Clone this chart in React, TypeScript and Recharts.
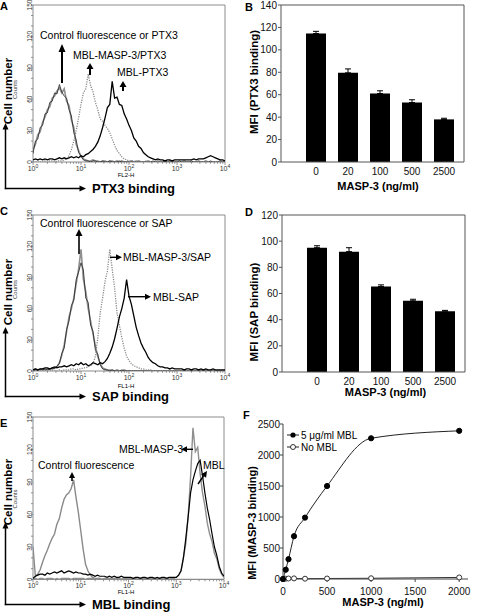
import React from 'react';
import { LineChart, Line, XAxis, YAxis, ReferenceArea, BarChart, Bar, ErrorBar } from 'recharts';

const FONT = '"Liberation Sans", Arial, Helvetica, sans-serif';

// log10 fluorescence channel positions shared by the three histograms
const logChannels = [
  0, 0.05, 0.1, 0.15, 0.2, 0.25, 0.3, 0.35, 0.4, 0.45,
  0.5, 0.55, 0.6, 0.65, 0.7, 0.75, 0.8, 0.85, 0.9, 0.95,
  1, 1.05, 1.1, 1.15, 1.2, 1.25, 1.3, 1.35, 1.4, 1.45,
  1.5, 1.55, 1.6, 1.65, 1.7, 1.75, 1.8, 1.85, 1.9, 1.95,
  2, 2.05, 2.1, 2.15, 2.2, 2.25, 2.3, 2.35, 2.4, 2.45,
  2.5, 2.55, 2.6, 2.65, 2.7, 2.75, 2.8, 2.85, 2.9, 2.95,
  3, 3.05, 3.1, 3.15, 3.2, 3.25, 3.3, 3.35, 3.4, 3.45,
  3.5, 3.55, 3.6, 3.65, 3.7, 3.75, 3.8, 3.85, 3.9, 3.95,
  4,
];

// panel A - PTX3 binding
const ctrlA = [
  12, 17, 26, 29, 38, 43, 50, 53, 61, 63,
  68, 71, 66, 70, 58, 54, 40, 33, 17, 11,
  5, 3, 2, 1, 1, 2, 1, 1, 0, 1,
  1, 0, 1, 1, 0, 1, 0, 1, 0, 0,
  0, 1, 0, 0, 1, 0, 0, 0, 1, 0,
  0, 0, 1, 0, 0, 0, 0, 1, 0, 0,
  0, 0, 0, 1, 0, 0, 0, 0, 0, 1,
  0, 0, 1, 0, 0, 0, 0, 0, 1, 0,
  0,
];
const ptx3A = [
  8, 20, 22, 33, 35, 46, 47, 57, 58, 66,
  65, 74, 67, 63, 61, 50, 44, 28, 21, 9,
  6, 2, 1, 1, 0, 1, 1, 0, 0, 1,
  0, 0, 1, 0, 0, 0, 1, 0, 0, 0,
  0, 0, 0, 1, 0, 0, 0, 0, 0, 0,
  1, 0, 0, 0, 0, 1, 0, 0, 0, 0,
  0, 1, 0, 0, 0, 0, 1, 0, 0, 0,
  0, 0, 0, 0, 1, 0, 0, 0, 0, 0,
  0,
];
const maspPtx3A = [
  0, 0, 1, 0, 0, 1, 0, 1, 1, 0,
  1, 1, 1, 2, 3, 6, 12, 20, 30, 42,
  55, 66, 70, 84, 73, 67, 57, 50, 41, 39,
  35, 32, 28, 22, 16, 11, 8, 5, 3, 2,
  1, 1, 1, 0, 1, 0, 0, 1, 0, 0,
  0, 0, 0, 0, 0, 0, 0, 0, 0, 0,
  0, 0, 0, 0, 0, 0, 0, 0, 0, 0,
  0, 0, 0, 0, 0, 0, 0, 0, 0, 0,
  0,
];
const mblPtx3A = [
  2, 3, 2, 3, 2, 3, 2, 3, 3, 2,
  3, 4, 3, 4, 3, 4, 5, 4, 5, 4,
  6, 5, 7, 8, 10, 12, 15, 19, 25, 33,
  42, 52, 55, 77, 61, 62, 55, 54, 46, 41,
  35, 30, 23, 20, 15, 13, 9, 7, 5, 4,
  3, 2, 3, 2, 2, 1, 2, 2, 1, 2,
  2, 2, 2, 2, 2, 2, 2, 3, 2, 3,
  3, 3, 4, 5, 6, 5, 4, 3, 2, 2,
  1,
];

// panel C - SAP binding
const ctrlC = [
  1, 2, 1, 1, 2, 1, 2, 2, 2, 3,
  4, 8, 15, 25, 38, 52, 60, 70, 84, 98,
  117, 88, 76, 60, 48, 36, 24, 14, 7, 3,
  2, 1, 1, 1, 0, 1, 0, 0, 1, 0,
  0, 0, 0, 0, 0, 0, 0, 0, 0, 0,
  0, 0, 0, 0, 0, 0, 0, 0, 0, 0,
  0, 0, 0, 0, 0, 0, 0, 0, 0, 0,
  0, 0, 0, 0, 0, 0, 0, 0, 0, 0,
  0,
];
const sapC = [
  0, 1, 1, 2, 1, 2, 1, 2, 3, 2,
  5, 7, 17, 22, 40, 48, 63, 68, 88, 95,
  104, 97, 70, 66, 44, 38, 20, 16, 6, 2,
  1, 1, 0, 1, 0, 0, 0, 1, 0, 0,
  0, 0, 0, 0, 0, 0, 0, 0, 0, 0,
  0, 0, 0, 0, 0, 0, 0, 0, 0, 0,
  0, 0, 0, 0, 0, 0, 0, 0, 0, 0,
  0, 0, 0, 0, 0, 0, 0, 0, 0, 0,
  0,
];
const maspSapC = [
  0, 0, 0, 0, 0, 0, 0, 0, 1, 0,
  0, 1, 0, 1, 1, 1, 2, 2, 1, 2,
  2, 3, 3, 4, 5, 7, 14, 32, 56, 70,
  86, 96, 117, 98, 80, 56, 44, 32, 22, 14,
  10, 7, 5, 4, 3, 2, 2, 1, 1, 1,
  0, 0, 0, 0, 0, 0, 0, 0, 0, 0,
  0, 0, 0, 0, 0, 0, 0, 0, 0, 0,
  0, 0, 0, 0, 0, 0, 0, 0, 0, 0,
  0,
];
const mblSapC = [
  1, 2, 1, 2, 2, 3, 3, 2, 3, 4,
  3, 4, 4, 5, 4, 5, 6, 5, 7, 6,
  8, 6, 7, 5, 6, 8, 7, 6, 8, 7,
  9, 12, 17, 23, 31, 41, 52, 60, 70, 88,
  72, 64, 53, 42, 34, 27, 22, 18, 13, 10,
  8, 7, 5, 4, 4, 3, 3, 2, 3, 2,
  2, 2, 2, 1, 2, 2, 1, 2, 2, 1,
  2, 1, 2, 1, 1, 2, 1, 1, 1, 1,
  1,
];

// panel E - MBL binding
const ctrlE = [
  30, 3, 5, 9, 16, 22, 27, 33, 38, 42,
  51, 56, 66, 74, 78, 80, 84, 92, 76, 62,
  45, 28, 14, 8, 4, 2, 1, 1, 1, 0,
  1, 0, 0, 1, 0, 0, 1, 0, 0, 0,
  0, 1, 0, 0, 0, 1, 0, 0, 0, 0,
  1, 0, 0, 0, 0, 0, 1, 0, 0, 0,
  0, 0, 0, 0, 0, 0, 0, 0, 0, 0,
  0, 0, 0, 0, 0, 0, 0, 0, 0, 0,
  0,
];
const maspE = [
  1, 1, 0, 1, 1, 0, 1, 1, 1, 0,
  1, 0, 1, 1, 1, 1, 0, 1, 1, 1,
  1, 1, 0, 1, 1, 1, 0, 1, 1, 0,
  1, 1, 1, 0, 1, 1, 1, 0, 1, 1,
  1, 0, 1, 1, 0, 1, 1, 1, 0, 1,
  1, 1, 0, 1, 1, 1, 1, 0, 1, 1,
  2, 4, 8, 20, 33, 59, 95, 140, 118, 122,
  98, 80, 68, 52, 42, 35, 24, 19, 10, 5,
  2,
];
const mblE = [
  1, 3, 4, 5, 5, 4, 6, 5, 6, 7,
  6, 7, 8, 6, 7, 8, 7, 6, 7, 6,
  6, 5, 5, 4, 5, 4, 3, 4, 3, 3,
  3, 2, 3, 2, 3, 2, 2, 3, 2, 2,
  2, 2, 1, 2, 2, 1, 2, 2, 1, 2,
  2, 1, 2, 1, 2, 2, 1, 2, 2, 2,
  2, 4, 8, 20, 38, 58, 80, 92, 100, 107,
  110, 96, 80, 66, 55, 42, 30, 22, 12, 6,
  3,
];

// panels B and D
const masp3Doses = ['0', '20', '100', '500', '2500'];
const ptx3Mfi = [114.5, 79.5, 61, 53, 38];
const ptx3Sem = [2, 3.5, 2.5, 2.5, 1];
const sapMfi = [95, 92, 65.3, 54.4, 46.5];
const sapSem = [1.5, 3, 1.3, 1.2, 0.6];

// panel F
const fDoses = [0, 31.25, 62.5, 125, 250, 500, 1000, 2000];
const withMbl = [0, 150, 320, 690, 990, 1500, 2270, 2390];
const noMbl = [0, 5, 8, 10, 5, 8, 12, 25];

const countTicks = [0, 10, 20, 30, 40, 50, 60, 70, 80, 90, 100, 110, 120, 130, 140, 150];
const decades = [0, 1, 2, 3, 4];
const logTicks = decades.flatMap((d) =>
  d === 4 ? [4] : [d, ...[2, 3, 4, 5, 6, 7, 8, 9].map((m) => d + Math.log10(m))]
);

const LogTick = (props: any) => {
  const { x, y, payload } = props;
  const v = payload.value;
  const major = Math.abs(v - Math.round(v)) < 1e-6;
  return (
    <g>
      <line x1={x} x2={x} y1={y} y2={y + (major ? 3 : 1.8)} stroke="#777" strokeWidth={0.8} />
      {major && (
        <text x={x} y={y + 8.5} textAnchor="middle" fontSize={7} fill="#333" fontFamily={FONT}>
          10<tspan dy={-2.8} fontSize={5}>{Math.round(v)}</tspan>
        </text>
      )}
    </g>
  );
};

const CountTick = (props: any) => {
  const { x, y, payload } = props;
  const v = payload.value;
  return (
    <g>
      <line x1={x - 2} x2={x} y1={y} y2={y} stroke="#777" strokeWidth={0.8} />
      {v % 30 === 0 && (
        <text x={x - 1} y={y} transform={`rotate(-90 ${x - 1} ${y})`} textAnchor="middle" fontSize={6.5} fill="#333" fontFamily={FONT}>
          {v}
        </text>
      )}
    </g>
  );
};

type Curve = { key: string; values: number[]; color: string; width: number; dash?: string };

// axis strips: the y axis takes 20px at the left, the x axis 20px below the plot
const Histogram = ({ curves, left, top, height, margin }: { curves: Curve[]; left: number; top: number; height: number; margin: any }) => {
  const data = logChannels.map((x, i) => {
    const row: any = { x };
    curves.forEach((c) => (row[c.key] = c.values[i]));
    return row;
  });
  return (
    <div style={{ position: 'absolute', left, top }}>
      <LineChart width={240} height={height} data={data} margin={margin}>
        <XAxis type="number" dataKey="x" domain={[0, 4]} ticks={logTicks} interval={0} height={20} tickSize={0} tickMargin={0} axisLine={false} tickLine={false} tick={(p: any) => <LogTick {...p} />} allowDataOverflow />
        <YAxis type="number" domain={[0, 150]} ticks={countTicks} interval={0} width={20} tickSize={0} tickMargin={0} axisLine={false} tickLine={false} tick={(p: any) => <CountTick {...p} />} allowDataOverflow />
        <ReferenceArea x1={0} x2={4} y1={0} y2={150} fill="none" stroke="#8c8c8c" strokeWidth={1} />
        {curves.map((c) => (
          <Line key={c.key} dataKey={c.key} type="linear" stroke={c.color} strokeWidth={c.width} strokeDasharray={c.dash} dot={false} isAnimationActive={false} />
        ))}
      </LineChart>
    </div>
  );
};

const MfiBars = ({ mfi, sem, yMax, left, top, margin }: { mfi: number[]; sem: number[]; yMax: number; left: number; top: number; margin: any }) => {
  const data = masp3Doses.map((dose, i) => ({ dose, mfi: mfi[i], err: [0, sem[i]] }));
  const yTicks = [0, 20, 40, 60, 80, 100, 120, 140].filter((t) => t <= yMax);
  return (
    <div style={{ position: 'absolute', left, top }}>
      <BarChart width={237} height={200} data={data} margin={margin}>
        <XAxis dataKey="dose" height={20} padding={{ left: 19, right: 4 }} tickLine={false} tickSize={0} tickMargin={6} interval={0} axisLine={{ stroke: '#555' }} tick={{ fontSize: 10, fill: '#111', fontFamily: FONT }} />
        <XAxis xAxisId="top" orientation="top" dataKey="dose" height={1} tick={false} tickLine={false} axisLine={{ stroke: '#555' }} />
        <YAxis domain={[0, yMax]} ticks={yTicks} interval={0} width={30} tickSize={3} tickMargin={1} axisLine={{ stroke: '#555' }} tickLine={{ stroke: '#555' }} tick={{ fontSize: 10, fill: '#111', fontFamily: FONT }} />
        <YAxis yAxisId="right" orientation="right" domain={[0, yMax]} width={1} tick={false} tickLine={false} axisLine={{ stroke: '#555' }} />
        <Bar dataKey="mfi" fill="#000" barSize={20} isAnimationActive={false}>
          <ErrorBar dataKey="err" width={3} stroke="#000" strokeWidth={1} direction="y" />
        </Bar>
      </BarChart>
    </div>
  );
};

const BindingCurve = () => {
  const data = fDoses.map((dose, i) => ({ dose, mbl: withMbl[i], none: noMbl[i] }));
  return (
    <div style={{ position: 'absolute', left: 240, top: 400 }}>
      <LineChart width={237} height={212} data={data} margin={{ top: 24, left: 13, right: 9, bottom: 13 }}>
        <XAxis type="number" dataKey="dose" domain={[0, 2100]} ticks={[0, 500, 1000, 1500, 2000]} interval={0} height={20} tickSize={3} tickMargin={6} axisLine={{ stroke: '#444' }} tickLine={{ stroke: '#444' }} tick={{ fontSize: 10, fill: '#111', fontFamily: FONT }} />
        <YAxis domain={[0, 2500]} ticks={[0, 500, 1000, 1500, 2000, 2500]} interval={0} width={30} tickSize={3} tickMargin={0} axisLine={{ stroke: '#444' }} tickLine={{ stroke: '#444' }} tick={{ fontSize: 10, fill: '#111', fontFamily: FONT }} />
        <Line type="monotone" dataKey="none" stroke="#333" strokeWidth={1} dot={{ r: 2.5, fill: '#fff', stroke: '#333', strokeWidth: 1 }} isAnimationActive={false} />
        <Line type="monotone" dataKey="mbl" stroke="#222" strokeWidth={1} dot={{ r: 2.6, fill: '#000', stroke: '#000', strokeWidth: 1 }} isAnimationActive={false} />
      </LineChart>
    </div>
  );
};

const Arrow = ({ x1, y1, x2, y2, w = 1.5, head = 6, hw = 3 }: any) => {
  const a = Math.atan2(y2 - y1, x2 - x1);
  const bx = x2 - head * Math.cos(a);
  const by = y2 - head * Math.sin(a);
  const px = -Math.sin(a) * hw;
  const py = Math.cos(a) * hw;
  return (
    <g>
      <line x1={x1} y1={y1} x2={bx} y2={by} stroke="#000" strokeWidth={w} />
      <polygon points={`${x2},${y2} ${bx + px},${by + py} ${bx - px},${by - py}`} fill="#000" />
    </g>
  );
};

const AxisCorner = ({ cy, top, label }: { cy: number; top: number; label: string }) => (
  <g>
    <line x1={5.5} y1={cy + 0.7} x2={5.5} y2={top + 6} stroke="#000" strokeWidth={1.5} />
    <polygon points={`5.5,${top} 2.5,${top + 6.5} 8.5,${top + 6.5}`} fill="#000" />
    <line x1={4.8} y1={cy} x2={80} y2={cy} stroke="#000" strokeWidth={1.5} />
    <polygon points={`86,${cy} 79.5,${cy - 3} 79.5,${cy + 3}`} fill="#000" />
    <text x={92} y={cy + 4.6} fontSize={13} fontWeight="bold" fontFamily={FONT} fill="#000">{label}</text>
  </g>
);

const Vertical = ({ x, y, size, bold, children, color = '#000' }: any) => (
  <text x={x} y={y} transform={`rotate(-90 ${x} ${y})`} textAnchor="middle" fontSize={size} fontWeight={bold ? 'bold' : 'normal'} fontFamily={FONT} fill={color}>
    {children}
  </text>
);

const T = ({ x, y, size = 10.5, bold, children, anchor = 'start' }: any) => (
  <text x={x} y={y} fontSize={size} fontWeight={bold ? 'bold' : 'normal'} fontFamily={FONT} fill="#000" textAnchor={anchor}>
    {children}
  </text>
);

const Overlay = () => (
  <svg width={477} height={612} style={{ position: 'absolute', left: 0, top: 0, pointerEvents: 'none' }}>
    {/* panel letters */}
    <T x={0} y={10} size={11} bold>A</T>
    <T x={245} y={10.5} size={11} bold>B</T>
    <T x={0} y={215} size={11} bold>C</T>
    <T x={245} y={216} size={11} bold>D</T>
    <T x={0} y={427} size={11} bold>E</T>
    <T x={243} y={419} size={11} bold>F</T>

    {/* histogram axis titles */}
    <Vertical x={12} y={91} size={11.5} bold>Cell number</Vertical>
    <Vertical x={12} y={292} size={11.5} bold>Cell number</Vertical>
    <Vertical x={12} y={492} size={11.5} bold>Cell number</Vertical>
    <Vertical x={17} y={89.5} size={6} color="#333">Counts</Vertical>
    <Vertical x={17} y={289.5} size={6} color="#333">Counts</Vertical>
    <Vertical x={17} y={499} size={6} color="#333">Counts</Vertical>
    <T x={126} y={177} size={6} anchor="middle">FL2-H</T>
    <T x={126} y={387.5} size={6} anchor="middle">FL1-H</T>
    <T x={126} y={594} size={6} anchor="middle">FL1-H</T>
    <AxisCorner cy={188.5} top={123} label="PTX3 binding" />
    <AxisCorner cy={396.5} top={327} label="SAP binding" />
    <AxisCorner cy={604.5} top={522} label="MBL binding" />

    {/* panel A annotations */}
    <T x={40} y={39}>Control fluorescence or PTX3</T>
    <Arrow x1={62} y1={83} x2={62} y2={44} w={2} head={8} hw={3.5} />
    <T x={73} y={59}>MBL-MASP-3/PTX3</T>
    <Arrow x1={90} y1={75} x2={90} y2={63} w={2} head={6} hw={3.5} />
    <T x={117} y={76}>MBL-PTX3</T>
    <Arrow x1={123} y1={91} x2={123} y2={81} w={2} head={6} hw={3.5} />

    {/* panel C annotations */}
    <T x={40} y={227}>Control fluorescence or SAP</T>
    <Arrow x1={79} y1={254} x2={79} y2={229} w={1.6} head={7} hw={3.5} />
    <T x={123} y={261}>MBL-MASP-3/SAP</T>
    <Arrow x1={110} y1={257.3} x2={122} y2={257.3} w={1.4} head={6} hw={3} />
    <T x={153} y={300.5}>MBL-SAP</T>
    <Arrow x1={128} y1={296.7} x2={151} y2={296.7} w={1.4} head={6} hw={3} />

    {/* panel E annotations */}
    <T x={38} y={469}>Control fluorescence</T>
    <Arrow x1={72} y1={481} x2={72} y2={472} w={1.6} head={6} hw={3} />
    <T x={119} y={453}>MBL-MASP-3</T>
    <Arrow x1={193} y1={449.3} x2={181} y2={449.3} w={1.4} head={6} hw={3} />
    <T x={203} y={469}>MBL</T>
    <Arrow x1={198} y1={484} x2={207} y2={471} w={1.5} head={6} hw={3} />

    {/* bar and curve axis titles */}
    <Vertical x={257.5} y={82} size={11.5} bold>MFI (PTX3 binding)</Vertical>
    <T x={378} y={189.5} size={11} bold anchor="middle">MASP-3 (ng/ml)</T>
    <Vertical x={257.5} y={312} size={11.5} bold>MFI (SAP binding)</Vertical>
    <T x={385.5} y={396} size={11} bold anchor="middle">MASP-3 (ng/ml)</T>
    <Vertical x={256} y={523} size={11} bold>MFI (MASP-3 binding)</Vertical>
    <T x={383} y={606} size={11} bold anchor="middle">MASP-3 (ng/ml)</T>

    {/* panel F legend */}
    <line x1={287} x2={299} y1={435} y2={435} stroke="#222" strokeWidth={1} />
    <circle cx={293} cy={435} r={2.6} fill="#000" />
    <T x={301} y={438.5} size={10}>5 μg/ml MBL</T>
    <line x1={287} x2={299} y1={447} y2={447} stroke="#222" strokeWidth={1} />
    <circle cx={293} cy={447} r={2.5} fill="#fff" stroke="#333" strokeWidth={1} />
    <T x={301} y={450.5} size={10}>No MBL</T>
  </svg>
);

export default function App() {
  return (
    <div style={{ position: 'absolute', left: 0, top: 0, width: 477, height: 612, background: '#fff', fontFamily: FONT }}>
      <Histogram
        left={0}
        top={0}
        height={200}
        margin={{ top: 5, left: 13, right: 15, bottom: 18 }}
        curves={[
          { key: 'ctrl', values: ctrlA, color: '#8f8f8f', width: 1.6 },
          { key: 'ptx3', values: ptx3A, color: '#222', width: 0.8 },
          { key: 'masp', values: maspPtx3A, color: '#8a8a8a', width: 1.3, dash: '1.2 1.2' },
          { key: 'mbl', values: mblPtx3A, color: '#000', width: 1.3 },
        ]}
      />
      <Histogram
        left={0}
        top={200}
        height={200}
        margin={{ top: 15, left: 13, right: 15, bottom: 9 }}
        curves={[
          { key: 'ctrl', values: ctrlC, color: '#8f8f8f', width: 1.6 },
          { key: 'sap', values: sapC, color: '#222', width: 0.8 },
          { key: 'masp', values: maspSapC, color: '#8a8a8a', width: 1.3, dash: '1.2 1.2' },
          { key: 'mbl', values: mblSapC, color: '#000', width: 1.3 },
        ]}
      />
      <Histogram
        left={0}
        top={400}
        height={212}
        margin={{ top: 17, left: 13, right: 16, bottom: 12.5 }}
        curves={[
          { key: 'ctrl', values: ctrlE, color: '#8a8a8a', width: 1.4 },
          { key: 'masp', values: maspE, color: '#8f8f8f', width: 1.4 },
          { key: 'mbl', values: mblE, color: '#000', width: 1.2 },
        ]}
      />
      <MfiBars mfi={ptx3Mfi} sem={ptx3Sem} yMax={140} left={240} top={0} margin={{ top: 4, left: 11, right: 12, bottom: 18 }} />
      <MfiBars mfi={sapMfi} sem={sapSem} yMax={120} left={240} top={200} margin={{ top: 14, left: 12, right: 11, bottom: 8 }} />
      <BindingCurve />
      <Overlay />
    </div>
  );
}
